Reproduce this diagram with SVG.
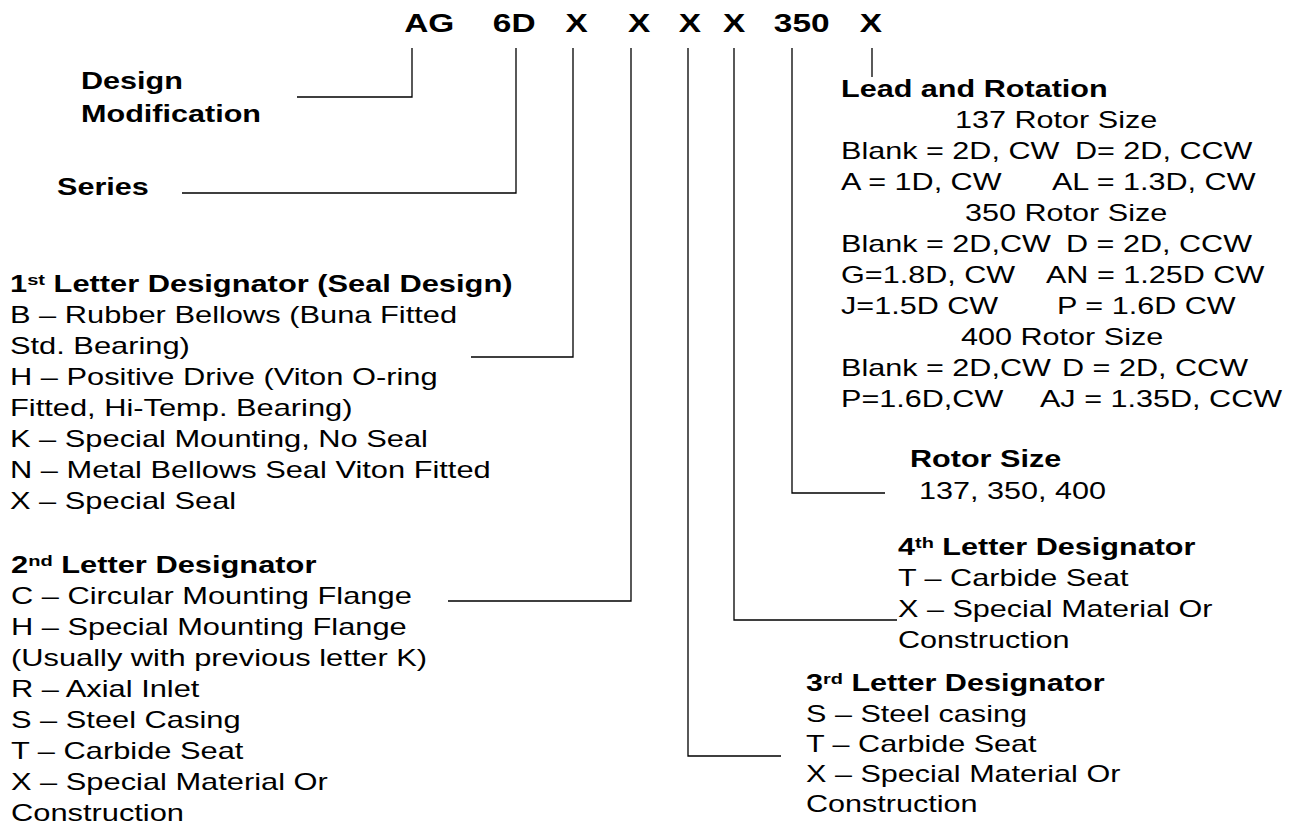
<svg xmlns="http://www.w3.org/2000/svg" width="1293" height="825" viewBox="0 0 1293 825">
<style>
  text { font-family: "Liberation Sans", Arial, sans-serif; font-size: 23px; fill: #000; }
  .b { font-weight: bold; }
  .code { font-size: 25.5px; font-weight: bold; text-anchor: middle; }
  .sup { font-size: 15px; }
  #connectors path { fill: none; stroke: #000; stroke-width: 1.3; }
</style>
<rect width="1293" height="825" fill="#fff"/>

<g id="connectors">
  <path d="M412,48 V97 H297"/>
  <path d="M516,48 V193 H182"/>
  <path d="M573,48 V357 H471"/>
  <path d="M631,48 V601 H448"/>
  <path d="M688,48 V756 H781"/>
  <path d="M734,48 V620 H897"/>
  <path d="M792,48 V493 H885"/>
  <path d="M872,48 V77"/>
</g>

<g id="code">
  <text class="code" transform="matrix(1.31,0,0,1,429.2,32)">AG</text>
  <text class="code" transform="matrix(1.31,0,0,1,514.2,32)">6D</text>
  <text class="code" transform="matrix(1.31,0,0,1,576.7,32)">X</text>
  <text class="code" transform="matrix(1.31,0,0,1,639.2,32)">X</text>
  <text class="code" transform="matrix(1.31,0,0,1,690,32)">X</text>
  <text class="code" transform="matrix(1.31,0,0,1,734.2,32)">X</text>
  <text class="code" transform="matrix(1.31,0,0,1,801.7,32)">350</text>
  <text class="code" transform="matrix(1.31,0,0,1,870.8,32)">X</text>
</g>

<g id="design-modification">
  <text class="b" transform="matrix(1.33,0,0,1,81,89)">Design</text>
  <text class="b" transform="matrix(1.33,0,0,1,81,122)">Modification</text>
</g>

<g id="series">
  <text class="b" transform="matrix(1.33,0,0,1,57,195)">Series</text>
</g>

<g id="letter1">
  <text class="b" transform="matrix(1.34,0,0,1,10,292)">1<tspan class="sup" dy="-7">st</tspan><tspan dy="7"> Letter Designator (Seal Design)</tspan></text>
  <text transform="matrix(1.34,0,0,1,10,323)">B – Rubber Bellows (Buna Fitted</text>
  <text transform="matrix(1.34,0,0,1,10,354)">Std. Bearing)</text>
  <text transform="matrix(1.34,0,0,1,10,385)">H – Positive Drive (Viton O-ring</text>
  <text transform="matrix(1.34,0,0,1,10,416)">Fitted, Hi-Temp. Bearing)</text>
  <text transform="matrix(1.34,0,0,1,10,447)">K – Special Mounting, No Seal</text>
  <text transform="matrix(1.34,0,0,1,10,478)">N – Metal Bellows Seal Viton Fitted</text>
  <text transform="matrix(1.34,0,0,1,10,509)">X – Special Seal</text>
</g>

<g id="letter2">
  <text class="b" transform="matrix(1.34,0,0,1,11,573)">2<tspan class="sup" dy="-7">nd</tspan><tspan dy="7"> Letter Designator</tspan></text>
  <text transform="matrix(1.34,0,0,1,11,604)">C – Circular Mounting Flange</text>
  <text transform="matrix(1.34,0,0,1,11,635)">H – Special Mounting Flange</text>
  <text transform="matrix(1.34,0,0,1,11,666)">(Usually with previous letter K)</text>
  <text transform="matrix(1.34,0,0,1,11,697)">R – Axial Inlet</text>
  <text transform="matrix(1.34,0,0,1,11,728)">S – Steel Casing</text>
  <text transform="matrix(1.34,0,0,1,11,759)">T – Carbide Seat</text>
  <text transform="matrix(1.34,0,0,1,11,790)">X – Special Material Or</text>
  <text transform="matrix(1.34,0,0,1,11,821)">Construction</text>
</g>

<g id="lead-rotation">
  <text class="b" transform="matrix(1.33,0,0,1,841,97)">Lead and Rotation</text>
  <text transform="matrix(1.33,0,0,1,955,128)">137 Rotor Size</text>
  <text transform="matrix(1.33,0,0,1,841,159)">Blank = 2D, CW<tspan x="175.9">D= 2D, CCW</tspan></text>
  <text transform="matrix(1.33,0,0,1,841,190)">A = 1D, CW<tspan x="158.6">AL = 1.3D, CW</tspan></text>
  <text transform="matrix(1.33,0,0,1,965,221)">350 Rotor Size</text>
  <text transform="matrix(1.33,0,0,1,841,252)">Blank = 2D,CW<tspan x="169.2">D = 2D, CCW</tspan></text>
  <text transform="matrix(1.33,0,0,1,841,283)">G=1.8D, CW<tspan x="154.1">AN = 1.25D CW</tspan></text>
  <text transform="matrix(1.33,0,0,1,841,314)">J=1.5D CW<tspan x="162.4">P = 1.6D CW</tspan></text>
  <text transform="matrix(1.33,0,0,1,961,345)">400 Rotor Size</text>
  <text transform="matrix(1.33,0,0,1,841,376)">Blank = 2D,CW<tspan x="166.2">D = 2D, CCW</tspan></text>
  <text transform="matrix(1.33,0,0,1,841,407)">P=1.6D,CW<tspan x="149.6">AJ = 1.35D, CCW</tspan></text>
</g>

<g id="rotor-size">
  <text class="b" transform="matrix(1.33,0,0,1,910,467)">Rotor Size</text>
  <text transform="matrix(1.33,0,0,1,919,499)">137, 350, 400</text>
</g>

<g id="letter4">
  <text class="b" transform="matrix(1.33,0,0,1,898,555)">4<tspan class="sup" dy="-7">th</tspan><tspan dy="7"> Letter Designator</tspan></text>
  <text transform="matrix(1.33,0,0,1,898,586)">T – Carbide Seat</text>
  <text transform="matrix(1.33,0,0,1,898,617)">X – Special Material Or</text>
  <text transform="matrix(1.33,0,0,1,898,648)">Construction</text>
</g>

<g id="letter3">
  <text class="b" transform="matrix(1.33,0,0,1,806,691)">3<tspan class="sup" dy="-7">rd</tspan><tspan dy="7"> Letter Designator</tspan></text>
  <text transform="matrix(1.33,0,0,1,806,722)">S – Steel casing</text>
  <text transform="matrix(1.33,0,0,1,806,752)">T – Carbide Seat</text>
  <text transform="matrix(1.33,0,0,1,806,782)">X – Special Material Or</text>
  <text transform="matrix(1.33,0,0,1,806,812)">Construction</text>
</g>
</svg>
